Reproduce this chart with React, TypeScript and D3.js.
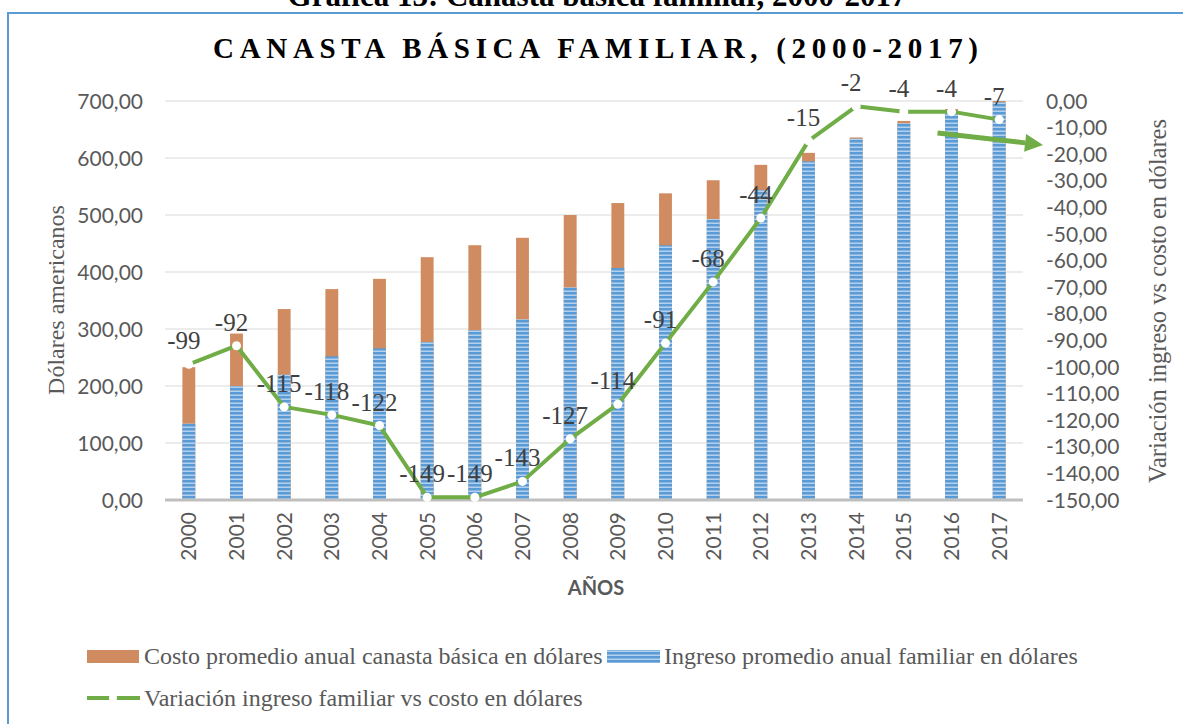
import React, { useRef, useEffect } from "react";
import * as d3 from "d3";

// values
const years = ["2000", "2001", "2002", "2003", "2004", "2005", "2006", "2007", "2008",
  "2009", "2010", "2011", "2012", "2013", "2014", "2015", "2016", "2017"];
const costo = [233, 292, 335, 370, 388, 426, 447, 460, 500, 521, 538, 561, 588, 609, 636, 665, 686, 705];
const ingreso = [134, 200, 220, 252, 266, 277, 298, 317, 373, 407, 447, 493, 544, 594, 634, 661, 682, 698];
const variacion = [-99, -92, -115, -118, -122, -149, -149, -143, -127, -114, -91, -68, -44, -15, -2, -4, -4, -7];
const leftTicks = [0, 100, 200, 300, 400, 500, 600, 700];
const rightTicks = d3.range(0, -151, -10);

const SANS = "Lato, 'Open Sans', sans-serif";
const SERIF = "'Liberation Serif', 'DejaVu Serif', serif";

const App = () => {
  const chartRef = useRef<SVGSVGElement>(null);

  useEffect(() => {
    const width = 1183;
    const height = 724;
    const margin = { top: 101, right: 160, bottom: 224, left: 165 };

    const svg = d3.select(chartRef.current);
    svg.selectAll("*").remove();
    svg.attr("width", width).attr("height", height);

    const locale = d3.formatLocale({ decimal: ",", thousands: ".", grouping: [3], currency: ["$", ""], minus: "-" });
    const fmt = locale.format(".2f");

    const x = d3.scaleBand().domain(years).range([margin.left, 1023]).padding(0);
    const y = d3.scaleLinear().domain([0, 700]).range([height - margin.bottom, margin.top]).clamp(true);
    const y2 = d3.scaleLinear().domain([-150, 0]).range([height - margin.bottom, margin.top]);
    const cx = (d: string) => (x(d) as number) + x.bandwidth() / 2;
    const barW = x.bandwidth() * 0.27;

    // striped fill for the blue bars
    const defs = svg.append("defs");
    const pat = defs.append("pattern")
      .attr("id", "stripes")
      .attr("patternUnits", "userSpaceOnUse")
      .attr("width", 4)
      .attr("height", 4);
    pat.append("rect").attr("width", 4).attr("height", 4).attr("fill", "#5B9BD5");
    pat.append("rect").attr("y", 2.5).attr("width", 4).attr("height", 1.5).attr("fill", "#B3D1EE");

    // chart border
    svg.append("rect")
      .attr("x", 8).attr("y", 13)
      .attr("width", 1300).attr("height", 900)
      .attr("fill", "white")
      .attr("stroke", "#5B9BD5")
      .attr("stroke-width", 2);

    // caption, cut off at the top as in the source
    svg.append("text")
      .attr("x", 597).attr("y", 6)
      .attr("text-anchor", "middle")
      .attr("font-family", SERIF)
      .attr("font-weight", "bold")
      .attr("font-size", 31)
      .attr("fill", "#000")
      .text("Gráfica 13: Canasta básica familiar, 2000-2017");

    svg.append("text")
      .attr("x", 213).attr("y", 58)
      .attr("font-family", SERIF)
      .attr("font-weight", "bold")
      .attr("font-size", 29)
      .attr("textLength", 765)
      .attr("lengthAdjust", "spacing")
      .attr("fill", "#000")
      .text("CANASTA BÁSICA FAMILIAR, (2000-2017)");

    // gridlines
    svg.append("g")
      .selectAll("line")
      .data(leftTicks.slice(1))
      .enter()
      .append("line")
      .attr("x1", margin.left).attr("x2", 1023)
      .attr("y1", d => y(d)).attr("y2", d => y(d))
      .attr("stroke", "#D9D9D9")
      .attr("stroke-width", 1);

    // left axis labels
    svg.append("g")
      .selectAll("text")
      .data(leftTicks)
      .enter()
      .append("text")
      .attr("x", 143)
      .attr("y", d => y(d))
      .attr("dy", "0.36em")
      .attr("text-anchor", "end")
      .attr("font-family", SANS)
      .attr("font-size", 21)
      .attr("fill", "#595959")
      .text(d => fmt(d));

    // right axis labels
    svg.append("g")
      .selectAll("text")
      .data(rightTicks)
      .enter()
      .append("text")
      .attr("x", 1046)
      .attr("y", d => y2(d))
      .attr("dy", "0.36em")
      .attr("font-family", SANS)
      .attr("font-size", 21)
      .attr("fill", "#595959")
      .text(d => fmt(d));

    // bars: cost behind, income in front
    svg.append("g")
      .selectAll("rect")
      .data(years)
      .enter()
      .append("rect")
      .attr("x", d => cx(d) - barW / 2)
      .attr("y", (d, i) => y(costo[i]))
      .attr("width", barW)
      .attr("height", (d, i) => y(0) - y(costo[i]))
      .attr("fill", "#D08C60");

    svg.append("g")
      .selectAll("rect")
      .data(years)
      .enter()
      .append("rect")
      .attr("x", d => cx(d) - barW / 2)
      .attr("y", (d, i) => y(ingreso[i]))
      .attr("width", barW)
      .attr("height", (d, i) => y(0) - y(ingreso[i]))
      .attr("fill", "url(#stripes)");

    // base axis line
    svg.append("line")
      .attr("x1", margin.left).attr("x2", 1023)
      .attr("y1", y(0)).attr("y2", y(0))
      .attr("stroke", "#BFBFBF")
      .attr("stroke-width", 3);

    // year labels
    svg.append("g")
      .selectAll("text")
      .data(years)
      .enter()
      .append("text")
      .attr("transform", d => `translate(${cx(d)}, 512) rotate(-90)`)
      .attr("text-anchor", "end")
      .attr("dy", "0.36em")
      .attr("font-family", SANS)
      .attr("font-size", 21)
      .attr("fill", "#595959")
      .text(d => d);

    svg.append("text")
      .attr("x", 596).attr("y", 595)
      .attr("text-anchor", "middle")
      .attr("font-family", SANS)
      .attr("font-weight", "bold")
      .attr("font-size", 20)
      .attr("fill", "#595959")
      .text("AÑOS");

    // axis titles
    svg.append("text")
      .attr("transform", `translate(64, 300) rotate(-90)`)
      .attr("text-anchor", "middle")
      .attr("font-family", SERIF)
      .attr("font-size", 24)
      .attr("fill", "#595959")
      .text("Dólares americanos");

    svg.append("text")
      .attr("transform", `translate(1166, 301) rotate(-90)`)
      .attr("text-anchor", "middle")
      .attr("font-family", SERIF)
      .attr("font-size", 24.5)
      .attr("fill", "#595959")
      .text("Variación ingreso vs costo en dólares");

    // variation line
    const line = d3.line<number>()
      .x((d, i) => cx(years[i]))
      .y(d => y2(d));

    svg.append("path")
      .datum(variacion)
      .attr("d", line)
      .attr("fill", "none")
      .attr("stroke", "#70AD47")
      .attr("stroke-width", 4)
      .attr("stroke-linejoin", "round");

    svg.append("g")
      .selectAll("circle")
      .data(variacion)
      .enter()
      .append("circle")
      .attr("cx", (d, i) => cx(years[i]))
      .attr("cy", d => y2(d))
      .attr("r", 4.5)
      .attr("fill", "white");

    svg.append("g")
      .selectAll("text")
      .data(variacion)
      .enter()
      .append("text")
      .attr("x", (d, i) => cx(years[i]) - 5)
      .attr("y", d => y2(d) - 15)
      .attr("text-anchor", "middle")
      .attr("font-family", SERIF)
      .attr("font-size", 25)
      .attr("fill", "#404040")
      .text(d => d3.format("d")(d).replace("−", "-"));

    // green arrow pointing at the right axis
    const ax1 = cx("2016") - 14, ay1 = y2(-12);
    const ax2 = 1043, ay2 = y2(-16.5);
    const ang = Math.atan2(ay2 - ay1, ax2 - ax1);
    const headL = 18, headW = 9;
    const bx = ax2 - headL * Math.cos(ang), by = ay2 - headL * Math.sin(ang);
    svg.append("line")
      .attr("x1", ax1).attr("y1", ay1)
      .attr("x2", bx).attr("y2", by)
      .attr("stroke", "#70AD47")
      .attr("stroke-width", 5);
    svg.append("path")
      .attr("d", `M${ax2},${ay2} L${bx - headW * Math.sin(ang)},${by + headW * Math.cos(ang)} L${bx + headW * Math.sin(ang)},${by - headW * Math.cos(ang)} Z`)
      .attr("fill", "#70AD47");

    // legend
    const lg = svg.append("g").attr("font-family", SERIF).attr("font-size", 24).attr("fill", "#595959");
    lg.append("rect").attr("x", 87).attr("y", 650).attr("width", 52).attr("height", 13).attr("fill", "#D08C60");
    lg.append("text").attr("x", 144).attr("y", 664).text("Costo promedio anual canasta básica en dólares");
    lg.append("rect").attr("x", 607).attr("y", 650).attr("width", 53).attr("height", 13).attr("fill", "url(#stripes)");
    lg.append("text").attr("x", 664).attr("y", 664).text("Ingreso promedio anual familiar en dólares");
    lg.append("line").attr("x1", 87).attr("x2", 140).attr("y1", 698).attr("y2", 698)
      .attr("stroke", "#70AD47").attr("stroke-width", 4);
    lg.append("circle").attr("cx", 113).attr("cy", 698).attr("r", 4).attr("fill", "white");
    lg.append("text").attr("x", 144).attr("y", 706).text("Variación ingreso familiar vs costo en dólares");
  }, []);

  return <svg ref={chartRef} style={{ position: "absolute", left: 0, top: 0 }}></svg>;
};

export default App;
